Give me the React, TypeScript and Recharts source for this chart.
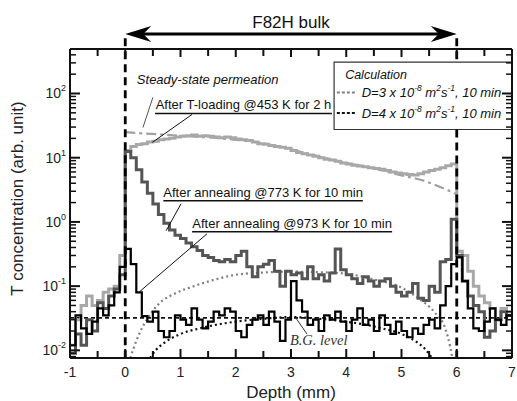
import React from 'react';
import {
  ComposedChart,
  Line,
  XAxis,
  YAxis,
  ReferenceLine,
  ReferenceArea,
  ReferenceDot,
  Label,
} from 'recharts';

const FONT = '"Liberation Sans", Arial, Helvetica, sans-serif';

// ---------- data ----------
const depthBins = [
  -1.0, -0.9, -0.8, -0.7, -0.6, -0.5, -0.4, -0.3, -0.2, -0.1,
  0.0, 0.1, 0.2, 0.3, 0.4, 0.5, 0.6, 0.7, 0.8, 0.9,
  1.0, 1.1, 1.2, 1.3, 1.4, 1.5, 1.6, 1.7, 1.8, 1.9,
  2.0, 2.1, 2.2, 2.3, 2.4, 2.5, 2.6, 2.7, 2.8, 2.9,
  3.0, 3.1, 3.2, 3.3, 3.4, 3.5, 3.6, 3.7, 3.8, 3.9,
  4.0, 4.1, 4.2, 4.3, 4.4, 4.5, 4.6, 4.7, 4.8, 4.9,
  5.0, 5.1, 5.2, 5.3, 5.4, 5.5, 5.6, 5.7, 5.8, 5.9,
  6.0, 6.1, 6.2, 6.3, 6.4, 6.5, 6.6, 6.7, 6.8, 6.9, 7.0,
];

// After T-loading @453 K for 2 h (light gray)
const tLoading = [
  0.012, 0.03, 0.05, 0.07, 0.05, 0.06, 0.08, 0.09, 0.1, 0.3,
  13, 15, 16, 16.5, 17.5, 18, 19, 19.5, 20, 21,
  21.5, 22, 22.5, 21.5, 22, 21.5, 21, 20.5, 21, 20.5,
  19.5, 19, 18.5, 17.5, 16.5, 16.2, 15.5, 15, 14.5, 14,
  13, 12, 11.5, 11, 10.5, 10, 9.5, 9.2, 8.8, 8.3,
  8, 7.6, 7.4, 7.2, 7.0, 6.8, 6.6, 6.3, 6.0, 5.8,
  5.6, 5.5, 5.4, 5.6, 6.0, 6.3, 6.6, 7.0, 7.5, 8.0,
  0.35, 0.3, 0.17, 0.1, 0.07, 0.055, 0.045, 0.03, 0.045, 0.04, 0.04,
];

// After annealing @773 K for 10 min (dark gray)
const anneal773 = [
  0.009, 0.018, 0.012, 0.03, 0.02, 0.055, 0.045, 0.07, 0.09, 0.15,
  12.5, 10, 6.5, 4.2, 2.8, 1.9, 1.3, 0.95, 0.75, 0.62,
  0.55, 0.47, 0.41, 0.36, 0.3, 0.28, 0.25, 0.24, 0.26, 0.24,
  0.3, 0.35, 0.2, 0.14, 0.2, 0.22, 0.25, 0.17, 0.1, 0.17,
  0.15, 0.16, 0.13, 0.2, 0.13, 0.15, 0.12, 0.16, 0.38, 0.18,
  0.15, 0.13, 0.11, 0.14, 0.12, 0.1, 0.12, 0.13, 0.1, 0.08,
  0.07, 0.08, 0.11, 0.065, 0.06, 0.1, 0.08, 0.24, 0.26, 1.1,
  0.3, 0.12, 0.07, 0.05, 0.04, 0.016, 0.02, 0.03, 0.04, 0.035, 0.035,
];

// After annealing @973 K for 10 min (black)
const anneal973 = [
  0.012, 0.035, 0.022, 0.018, 0.028, 0.045, 0.035, 0.05, 0.08, 0.2,
  0.38, 0.22, 0.08, 0.034, 0.028, 0.04, 0.02, 0.016, 0.02, 0.035,
  0.03, 0.025, 0.045, 0.03, 0.022, 0.028, 0.04, 0.035, 0.045, 0.04,
  0.02, 0.016, 0.025, 0.03, 0.035, 0.025, 0.04, 0.028, 0.014, 0.03,
  0.12, 0.06, 0.04, 0.025, 0.03, 0.02, 0.035, 0.03, 0.04, 0.028,
  0.02, 0.03, 0.045, 0.025, 0.03, 0.02, 0.035, 0.025, 0.018, 0.028,
  0.02, 0.016, 0.022, 0.018, 0.025, 0.03, 0.022, 0.05, 0.1, 0.22,
  0.28, 0.12, 0.045, 0.022, 0.02, 0.028, 0.045, 0.03, 0.025, 0.035, 0.035,
];

// Steady-state permeation (dash-dot)
const steadyDepth = [0, 0.3, 1, 2, 2.6, 3, 3.5, 4, 4.5, 5, 5.4, 5.7, 6];
const steadyConc = [25, 24, 22, 19, 16.2, 13.5, 10.5, 8.3, 6.8, 5.3, 4.4, 3.5, 2.7];

// Calculation D=3e-8 (gray dotted)
const calcD3Depth = [0.09, 0.2, 0.3, 0.4, 0.6, 0.9, 1.2, 1.5, 2.0, 2.5, 3.0, 3.5, 4.0, 4.5, 5.0, 5.3, 5.6, 5.8, 5.88, 5.92];
const calcD3Conc = [0.0076, 0.014, 0.022, 0.031, 0.052, 0.077, 0.097, 0.118, 0.15, 0.163, 0.168, 0.165, 0.156, 0.127, 0.095, 0.065, 0.039, 0.021, 0.0115, 0.0076];

// Calculation D=4e-8 (black dotted)
const calcD4Depth = [0.45, 0.55, 0.7, 1.0, 1.35, 2.0, 2.5, 3.0, 3.5, 4.0, 4.65, 5.0, 5.3, 5.45, 5.55];
const calcD4Conc = [0.0076, 0.01, 0.013, 0.018, 0.022, 0.028, 0.031, 0.033, 0.031, 0.028, 0.022, 0.018, 0.013, 0.01, 0.0076];

const bgLevel = 0.032;

const xTicks = [-1, -0.5, 0, 0.5, 1, 1.5, 2, 2.5, 3, 3.5, 4, 4.5, 5, 5.5, 6, 6.5, 7];
const yTicks = [
  0.008, 0.009,
  0.01, 0.02, 0.03, 0.04, 0.05, 0.06, 0.07, 0.08, 0.09,
  0.1, 0.2, 0.3, 0.4, 0.5, 0.6, 0.7, 0.8, 0.9,
  1, 2, 3, 4, 5, 6, 7, 8, 9,
  10, 20, 30, 40, 50, 60, 70, 80, 90,
  100, 200, 300, 400,
];

const X_DOMAIN: [number, number] = [-1, 7];
const Y_DOMAIN: [number, number] = [0.0076, 493];

// legend box extent (data units)
const LEG_X: [number, number] = [3.78, 7];
const LEG_Y: [number, number] = [27.5, 307];

const rows = (xs: number[], ys: number[]) => xs.map((x, i) => ({ x, y: ys[i] }));

const tLoadingRows = rows(depthBins, tLoading);
const anneal773Rows = rows(depthBins, anneal773);
const anneal973Rows = rows(depthBins, anneal973);
const steadyRows = rows(steadyDepth, steadyConc);
const calcD3Rows = rows(calcD3Depth, calcD3Conc);
const calcD4Rows = rows(calcD4Depth, calcD4Conc);

// ---------- helpers ----------
const isDecade = (v: number) => Math.abs(Math.log10(v) - Math.round(Math.log10(v))) < 1e-6;

function LeftTick(props: any) {
  const { x, y, payload } = props;
  const v = payload.value;
  const major = isDecade(v);
  const exp = Math.round(Math.log10(v));
  return (
    <g>
      <line x1={x} x2={x + (major ? 10 : 6)} y1={y} y2={y} stroke="#111" strokeWidth={major ? 2 : 1.5} />
      {major && (
        <text x={x - 4} y={y + 5} textAnchor="end" fontFamily={FONT} fontSize={14} fill="#222">
          10
          <tspan dy={-7} fontSize={9}>{exp}</tspan>
        </text>
      )}
    </g>
  );
}

function RightTick(props: any) {
  const { x, y, payload } = props;
  const major = isDecade(payload.value);
  return <line x1={x} x2={x - (major ? 10 : 6)} y1={y} y2={y} stroke="#111" strokeWidth={major ? 2 : 1.5} />;
}

function BottomTick(props: any) {
  const { x, y, payload } = props;
  const v = payload.value;
  const major = Number.isInteger(v);
  return (
    <g>
      <line x1={x} x2={x} y1={y} y2={y - (major ? 9 : 7)} stroke="#111" strokeWidth={2} />
      {major && (
        <text x={x} y={y + 19} textAnchor="middle" fontFamily={FONT} fontSize={14} fill="#222">
          {v}
        </text>
      )}
    </g>
  );
}

function TopTick(props: any) {
  const { x, y, payload } = props;
  const major = Number.isInteger(payload.value);
  return <line x1={x} x2={x} y1={y} y2={y + (major ? 8 : 7)} stroke="#111" strokeWidth={2} />;
}

function ArrowShape(props: any) {
  const { x1, y1, x2, y2 } = props;
  const l = Math.min(x1, x2);
  const r = Math.max(x1, x2);
  const y = y1;
  return (
    <g>
      <line x1={l + 8} x2={r - 8} y1={y} y2={y2} stroke="#000" strokeWidth={3} />
      <polygon points={`${l},${y} ${l + 26},${y - 8} ${l + 18},${y} ${l + 26},${y + 8}`} fill="#000" />
      <polygon points={`${r},${y} ${r - 26},${y - 8} ${r - 18},${y} ${r - 26},${y + 8}`} fill="#000" />
    </g>
  );
}

const underlineLabel = (text: string) => (p: any) => {
  const vb = p.viewBox;
  return (
    <text x={vb.x + vb.width / 2} y={vb.y - 4} textAnchor="middle" fontFamily={FONT} fontSize={13} fill="#111">
      {text}
    </text>
  );
};

const plainLabel = (text: string, opts: { size?: number; italic?: boolean; serif?: boolean; color?: string }) => (p: any) => {
  const vb = p.viewBox;
  return (
    <text
      x={vb.x}
      y={vb.y + 4}
      textAnchor="start"
      fontFamily={opts.serif ? '"Liberation Serif", "Times New Roman", serif' : FONT}
      fontStyle={opts.italic ? 'italic' : 'normal'}
      fontSize={opts.size ?? 13}
      fill={opts.color ?? '#111'}
    >
      {text}
    </text>
  );
};

const legendLabel = (dval: string) => (p: any) => {
  const vb = p.viewBox;
  return (
    <text x={vb.x + vb.width + 5} y={vb.y + 5} fontFamily={FONT} fontStyle="italic" fontSize={13} fill="#111">
      {`D=${dval} x 10`}
      <tspan dy={-6} fontSize={8.5}>-8</tspan>
      <tspan dy={6}> m</tspan>
      <tspan dy={-6} fontSize={8.5}>2</tspan>
      <tspan dy={6}>s</tspan>
      <tspan dy={-6} fontSize={8.5}>-1</tspan>
      <tspan dy={6}>, 10 min</tspan>
    </text>
  );
};

export default function App() {
  return (
    <div style={{ position: 'absolute', left: 0, top: 0, width: 517, height: 401, background: '#fff' }}>
      <ComposedChart width={517} height={401} margin={{ top: 48, right: 4, bottom: 13, left: 0 }}>
        <XAxis
          dataKey="x"
          type="number"
          domain={X_DOMAIN}
          allowDataOverflow
          ticks={xTicks}
          interval={0}
          tickSize={0}
          tickMargin={0}
          tickLine={false}
          tick={<BottomTick />}
          height={30}
          axisLine={{ stroke: '#111', strokeWidth: 2 }}
        >
          <Label
            content={(p: any) => (
              <text
                x={p.viewBox.x + p.viewBox.width / 2}
                y={p.viewBox.y + 40}
                textAnchor="middle"
                fontFamily={FONT}
                fontSize={17}
                fill="#222"
              >
                Depth (mm)
              </text>
            )}
          />
        </XAxis>
        <XAxis
          xAxisId="top"
          orientation="top"
          dataKey="x"
          type="number"
          domain={X_DOMAIN}
          allowDataOverflow
          ticks={xTicks}
          interval={0}
          tickSize={0}
          tickMargin={0}
          tickLine={false}
          tick={<TopTick />}
          height={1}
          axisLine={{ stroke: '#111', strokeWidth: 2 }}
        />
        <YAxis
          type="number"
          scale="log"
          domain={Y_DOMAIN}
          allowDataOverflow
          ticks={yTicks}
          interval={0}
          tickSize={0}
          tickMargin={0}
          tickLine={false}
          tick={<LeftTick />}
          width={70}
          axisLine={{ stroke: '#111', strokeWidth: 2 }}
        >
          <Label
            content={(p: any) => (
              <text
                transform={`translate(23, ${p.viewBox.y + p.viewBox.height / 2 - 5}) rotate(-90)`}
                textAnchor="middle"
                fontFamily={FONT}
                fontSize={17}
                fill="#222"
              >
                T concentration (arb. unit)
              </text>
            )}
          />
        </YAxis>
        <YAxis
          yAxisId="right"
          orientation="right"
          type="number"
          scale="log"
          domain={Y_DOMAIN}
          allowDataOverflow
          ticks={yTicks}
          interval={0}
          tickSize={0}
          tickMargin={0}
          tickLine={false}
          tick={<RightTick />}
          width={1}
          axisLine={{ stroke: '#111', strokeWidth: 2 }}
        />

        {/* legend box */}
        <ReferenceArea x1={LEG_X[0]} x2={LEG_X[1]} y1={LEG_Y[0]} y2={LEG_Y[1]} fill="#fff" fillOpacity={1} stroke="#333" strokeWidth={1.2} ifOverflow="visible" />

        {/* calculation curves */}
        <Line data={calcD3Rows} dataKey="y" type="monotone" stroke="#808080" strokeWidth={2.2} strokeDasharray="2 3" dot={false} isAnimationActive={false} />
        <Line data={calcD4Rows} dataKey="y" type="monotone" stroke="#111" strokeWidth={2.2} strokeDasharray="2 3" dot={false} isAnimationActive={false} />
        <ReferenceLine y={bgLevel} stroke="#111" strokeWidth={1.8} strokeDasharray="4 3" />

        {/* measured */}
        <Line data={steadyRows} dataKey="y" type="monotone" stroke="#a0a0a0" strokeWidth={2.2} strokeDasharray="10 4 3 4" dot={false} isAnimationActive={false} />
        <Line data={tLoadingRows} dataKey="y" type="stepAfter" stroke="#a8a8a8" strokeWidth={3} dot={false} isAnimationActive={false} />
        <Line data={anneal773Rows} dataKey="y" type="stepAfter" stroke="#555" strokeWidth={3} dot={false} isAnimationActive={false} />
        <Line data={anneal973Rows} dataKey="y" type="stepAfter" stroke="#000" strokeWidth={2.2} dot={false} isAnimationActive={false} />

        {/* bulk boundaries */}
        <ReferenceLine segment={[{ x: 0, y: 728 }, { x: 0, y: 0.0076 }]} stroke="#000" strokeWidth={2.8} strokeDasharray="8 5" ifOverflow="visible" />
        <ReferenceLine segment={[{ x: 6, y: 728 }, { x: 6, y: LEG_Y[1] }]} stroke="#000" strokeWidth={2.8} strokeDasharray="8 5" ifOverflow="visible" />
        <ReferenceLine segment={[{ x: 6, y: LEG_Y[0] }, { x: 6, y: 0.0076 }]} stroke="#000" strokeWidth={2.8} strokeDasharray="8 5" ifOverflow="visible" />
        <ReferenceLine
          segment={[{ x: 0, y: 843 }, { x: 6, y: 843 }]}
          ifOverflow="visible"
          shape={<ArrowShape />}
          label={(p: any) => (
            <text x={p.viewBox.x + p.viewBox.width / 2} y={p.viewBox.y - 6} textAnchor="middle" fontFamily={FONT} fontSize={17} fill="#111">
              F82H bulk
            </text>
          )}
        />

        {/* annotations */}
        <ReferenceDot x={0.21} y={161} r={0} fill="none" stroke="none" label={plainLabel('Steady-state permeation', { italic: true, size: 13 })} />
        <ReferenceLine segment={[{ x: 0.5, y: 87 }, { x: 0.32, y: 29.5 }]} stroke="#555" strokeWidth={1} />

        <ReferenceLine segment={[{ x: 0.54, y: 49 }, { x: 3.74, y: 49 }]} stroke="#111" strokeWidth={1.5} label={underlineLabel('After T-loading @453 K for 2 h')} />
        <ReferenceLine segment={[{ x: 1.21, y: 47.2 }, { x: 0.49, y: 17.3 }]} stroke="#111" strokeWidth={1} />

        <ReferenceLine segment={[{ x: 0.69, y: 2.14 }, { x: 4.3, y: 2.14 }]} stroke="#111" strokeWidth={1.5} label={underlineLabel('After annealing @773 K for 10 min')} />
        <ReferenceLine segment={[{ x: 1.01, y: 1.92 }, { x: 0.74, y: 0.73 }]} stroke="#111" strokeWidth={1} />

        <ReferenceLine segment={[{ x: 1.21, y: 0.7 }, { x: 4.83, y: 0.7 }]} stroke="#111" strokeWidth={1.5} label={underlineLabel('After annealing @973 K for 10 min')} />
        <ReferenceLine segment={[{ x: 1.48, y: 0.653 }, { x: 0.23, y: 0.078 }]} stroke="#111" strokeWidth={1} />

        <ReferenceDot x={2.98} y={0.0139} r={0} fill="none" stroke="none" label={plainLabel('B.G. level', { italic: true, serif: true, size: 14.5, color: '#333' })} />
        <ReferenceLine segment={[{ x: 3.29, y: 0.0179 }, { x: 3.09, y: 0.0318 }]} stroke="#333" strokeWidth={1} />

        {/* legend contents */}
        <ReferenceDot x={3.98} y={192} r={0} fill="none" stroke="none" label={plainLabel('Calculation', { italic: true, size: 12.5 })} />
        <ReferenceLine segment={[{ x: 3.83, y: 104 }, { x: 4.19, y: 104 }]} stroke="#808080" strokeWidth={2} strokeDasharray="3 2" label={legendLabel('3')} />
        <ReferenceLine segment={[{ x: 3.83, y: 49.5 }, { x: 4.19, y: 49.5 }]} stroke="#111" strokeWidth={2} strokeDasharray="3 2" label={legendLabel('4')} />
      </ComposedChart>
    </div>
  );
}
